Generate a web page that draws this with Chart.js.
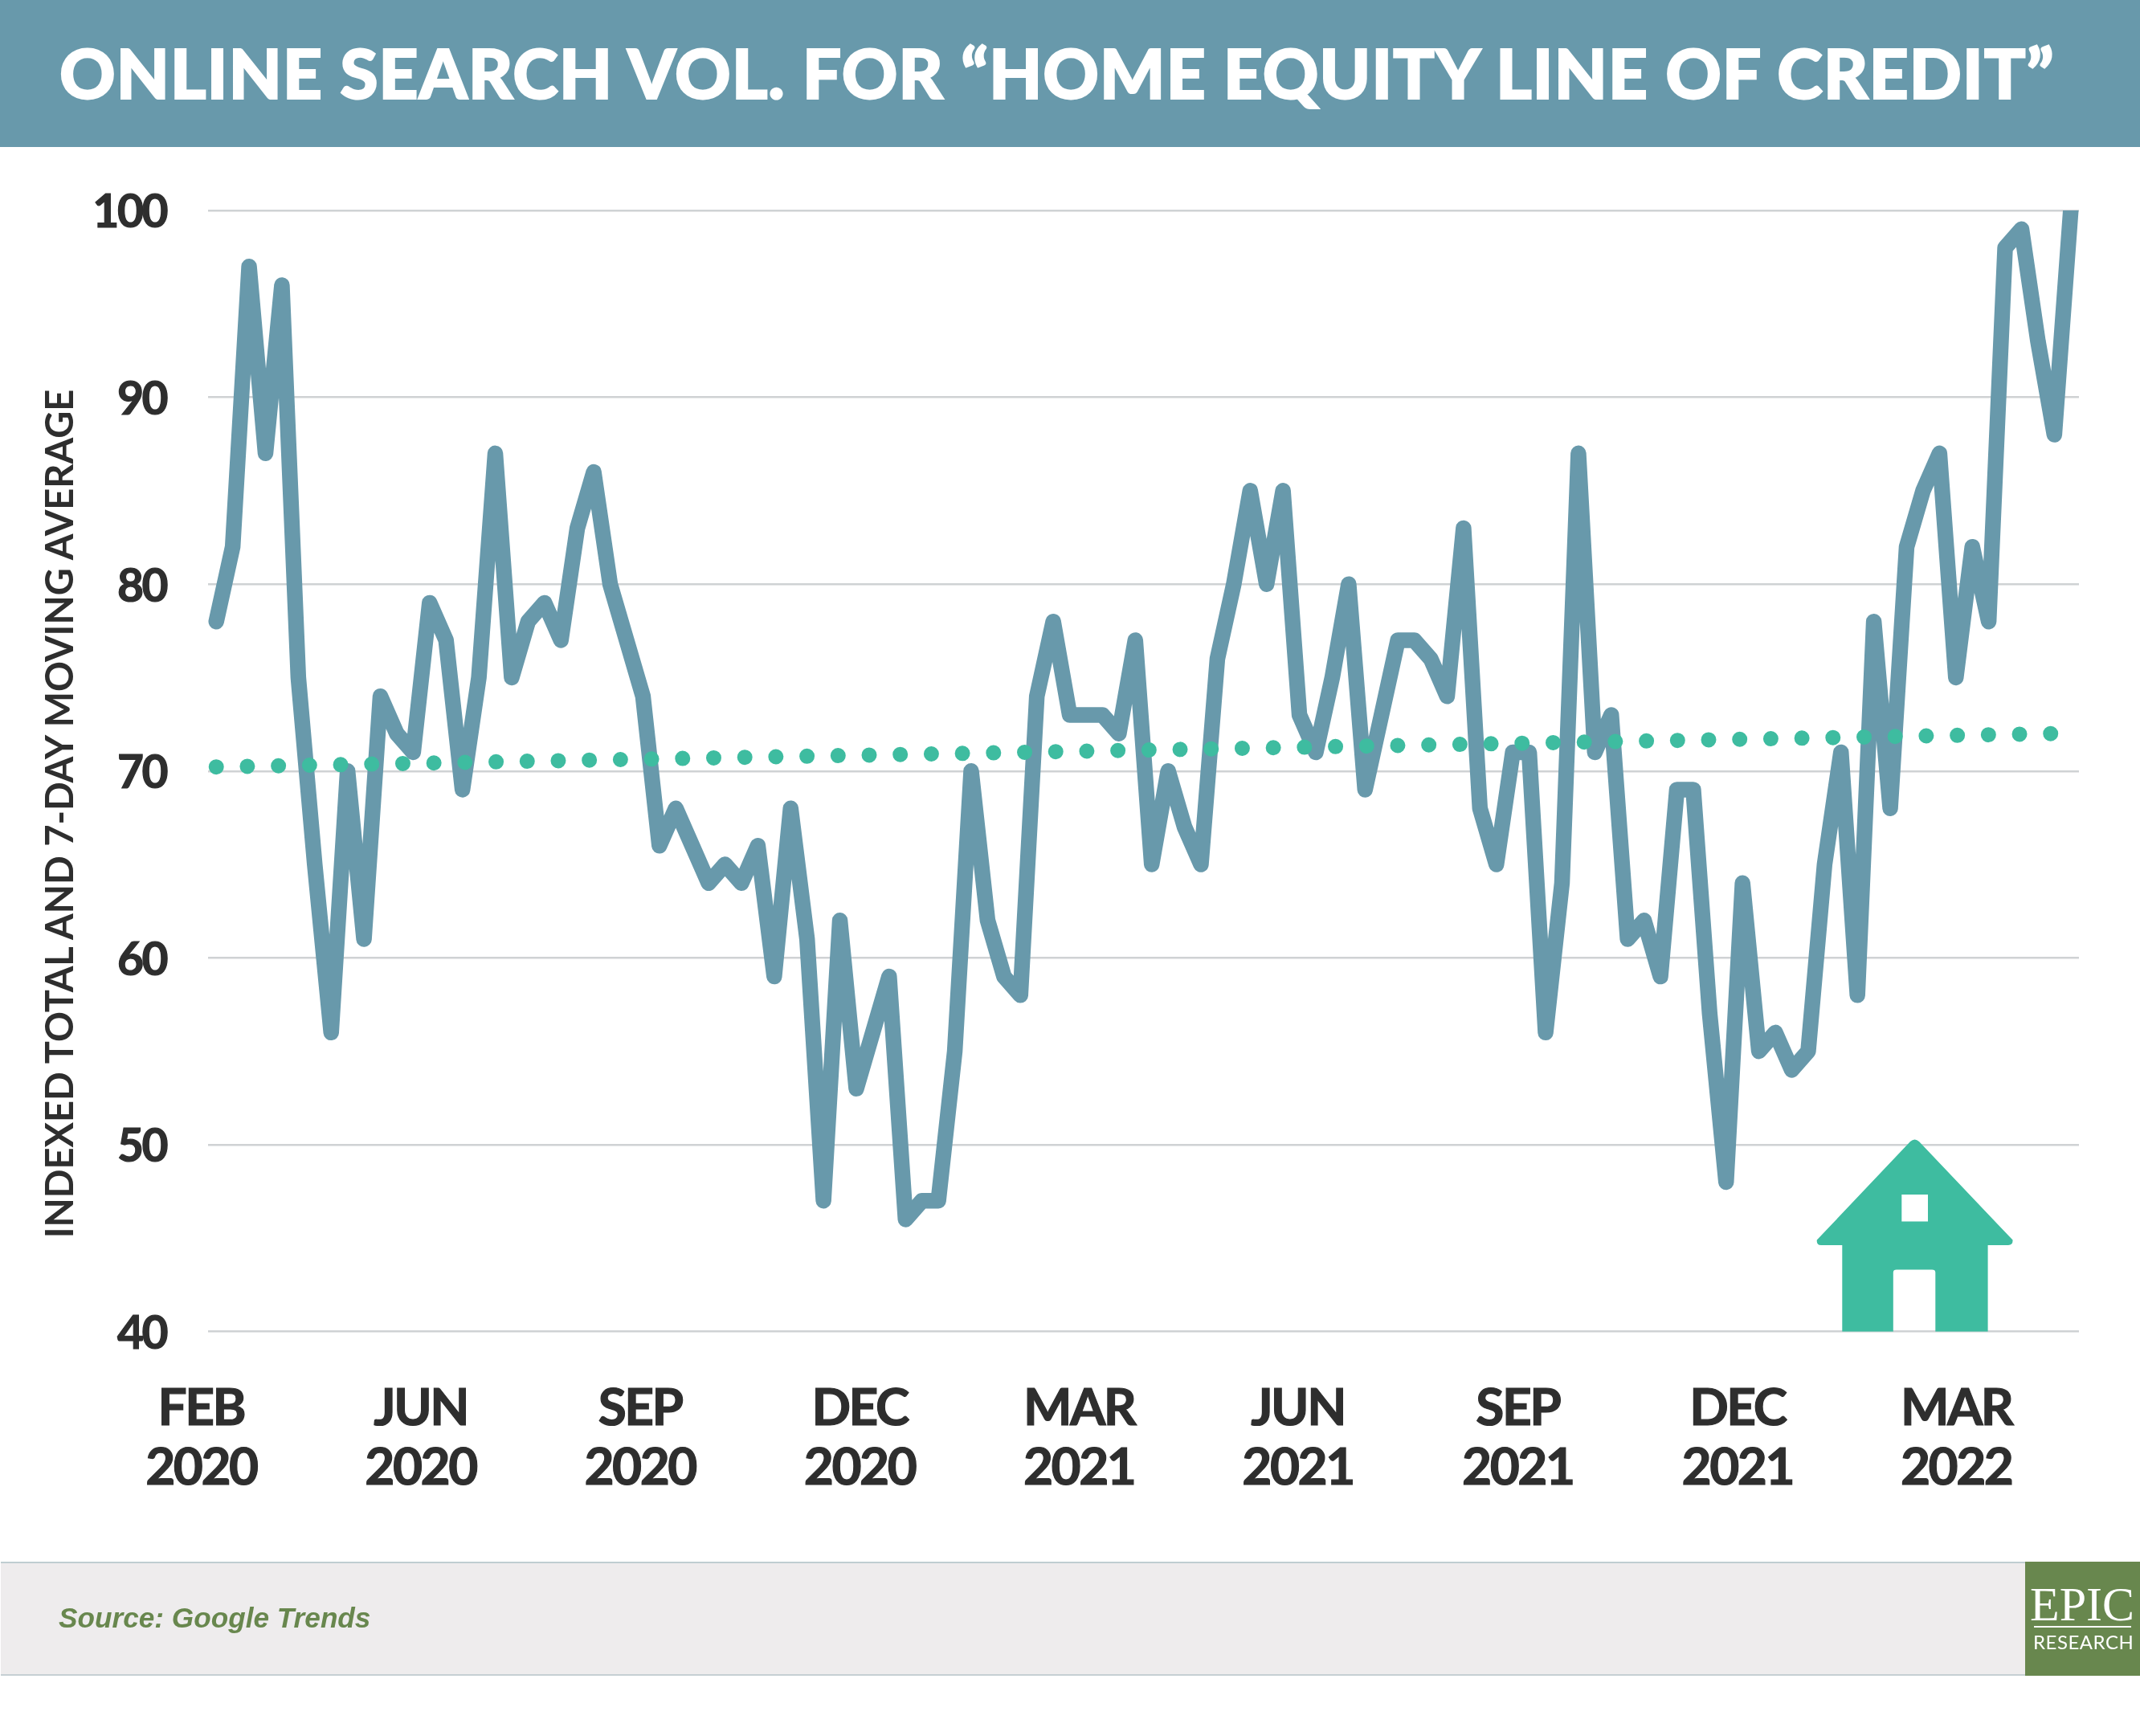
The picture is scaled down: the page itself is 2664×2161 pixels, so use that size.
<!DOCTYPE html>
<html><head><meta charset="utf-8">
<script src="https://cdn.jsdelivr.net/npm/chart.js@4"></script>
<style>
html,body{margin:0;padding:0;background:#fff;}
#page{position:relative;width:2664px;height:2161px;overflow:hidden;background:#fff;}
#chart{position:absolute;left:0;top:0;}
#header{position:absolute;left:0;top:0;width:2664px;height:183px;background:#6899AB;}
#title{position:absolute;left:74px;top:-2px;color:#fff;font:900 86px Lato,sans-serif;letter-spacing:0.8px;-webkit-text-stroke:2px #fff;line-height:184px;white-space:nowrap;}
#ytitle{position:absolute;left:73px;top:1013px;transform:translate(-50%,-50%) rotate(-90deg);font:700 47px Lato,sans-serif;color:#2E2E2E;white-space:nowrap;}
#footer{position:absolute;left:1px;top:1944px;width:2663px;height:142px;background:#EEECED;border-top:2px solid #BFCDD1;border-bottom:2px solid #C6CFD3;box-sizing:border-box;}
#source{position:absolute;left:73px;top:1994px;font:italic 700 35.2px "Liberation Sans",Arial,sans-serif;color:#68874E;white-space:nowrap;}
#logo{position:absolute;left:2521px;top:1944px;width:143px;height:142px;background:#68874E;color:#fff;}
#logo .e{position:absolute;left:6px;top:19px;font:400 60px "Liberation Serif",serif;line-height:68px;white-space:nowrap;}
#logo .r{position:absolute;left:11px;top:80px;width:121px;height:2px;background:#fff;}
#logo .s{position:absolute;left:10px;top:85px;font:400 24px Lato,sans-serif;letter-spacing:0.5px;white-space:nowrap;line-height:30px;}
#house{position:absolute;left:0;top:0;}
</style></head><body>
<div id="page">
<canvas id="chart" width="2664" height="2161"></canvas>
<div id="header"><div id="title">ONLINE SEARCH VOL. FOR “HOME EQUITY LINE OF CREDIT”</div></div>
<div id="ytitle">INDEXED TOTAL AND 7-DAY MOVING AVERAGE</div>
<svg id="house" width="2664" height="2161">
<path fill="#3EBCA0" fill-rule="evenodd" d="M2378 1421 Q2383.6 1416 2389 1421 L2505.5 1543.6 Q2506 1550 2500 1550 L2474.6 1550 L2474.6 1657.4 L2409.3 1657.4 L2409.3 1584 Q2409.3 1580.6 2405 1580.6 L2361 1580.6 Q2356.8 1580.6 2356.8 1584 L2356.8 1657.4 L2293.3 1657.4 L2293.3 1550 L2267 1550 Q2261 1550 2261.8 1543.6 Z M2367.3 1487 L2367.3 1520.5 L2400 1520.5 L2400 1487 Z"/>
</svg>
<div id="footer"></div>
<div id="source">Source: Google Trends</div>
<div id="logo"><div class="e">EPIC</div><div class="r"></div><div class="s">RESEARCH</div></div>
</div>
<script>
const searchVolume = [78,82,97,87,96,75,65,56,70,61,74,72,71,79,77,69,75,87,75,78,79,77,83,86,80,77,74,66,68,66,64,65,64,66,59,68,61,47,62,53,56,59,46,47,47,55,70,62,59,58,74,78,73,73,73,72,77,65,70,67,65,76,80,85,80,85,73,71,75,80,69,73,77,77,76,74,83,68,65,71,71,56,64,87,71,73,61,62,59,69,69,57,48,64,55,56,54,55,65,71,58,78,68,82,85,87,75,82,78,98,99,93,88,100];
const trendEnds = [70.22,72.02];
const tickLabels = [["FEB","2020"],["JUN","2020"],["SEP","2020"],["DEC","2020"],["MAR","2021"],["JUN","2021"],["SEP","2021"],["DEC","2021"],["MAR","2022"]];
const tickWeeks = [-0.92,12.45,25.82,39.2,52.57,65.9,79.3,92.69,106.02];
const yTicks = [40,50,60,70,80,90,100];

const tightText = {
  id:'tightText',
  beforeDraw(c){c.ctx.letterSpacing='-2.5px';},
  afterDraw(c){c.ctx.letterSpacing='0px';}
};

new Chart(document.getElementById('chart'),{
  type:'line',
  plugins:[tightText],
  data:{datasets:[
    {label:'Trend',order:0,data:[{x:0,y:trendEnds[0]},{x:searchVolume.length-1,y:trendEnds[1]}],borderColor:'#3EBCA0',borderWidth:19,borderCapStyle:'round',borderDash:[0.01,38.7],pointRadius:0,tension:0,clip:false},
    {label:'Search volume',order:1,data:searchVolume.map((y,x)=>({x,y})),borderColor:'#6899AB',borderWidth:19.5,borderCapStyle:'round',borderJoinStyle:'round',pointRadius:0,tension:0,clip:0}
  ]},
  options:{
    responsive:false,animation:false,devicePixelRatio:1,
    layout:{padding:{left:0,right:76,top:262,bottom:0}},
    plugins:{legend:{display:false},tooltip:{enabled:false},title:{display:false}},
    scales:{
      x:{type:'linear',min:-0.5,max:113.5,
        grid:{display:false},border:{display:false},
        afterBuildTicks(s){s.ticks=tickWeeks.map(value=>({value}));},
        afterFit(s){s.height=2161-1657.5;},
        ticks:{autoSkip:false,maxRotation:0,minRotation:0,padding:51,color:'#2E2E2E',textStrokeColor:'#2E2E2E',textStrokeWidth:1.2,
          font:{family:'Lato',weight:'700',size:64,lineHeight:1.156},
          callback(v,i){return tickLabels[i];}}},
      y:{min:40,max:100,
        grid:{color:'#CFD2D4',lineWidth:2.5,drawTicks:false},border:{display:false},
        afterBuildTicks(s){s.ticks=yTicks.map(value=>({value}));},
        afterFit(s){s.width=259;},
        ticks:{padding:52,labelOffset:3,color:'#2E2E2E',textStrokeColor:'#2E2E2E',textStrokeWidth:1.2,font:{family:'Lato',weight:'700',size:57}}}
    }
  }
});
</script>
</body></html>
